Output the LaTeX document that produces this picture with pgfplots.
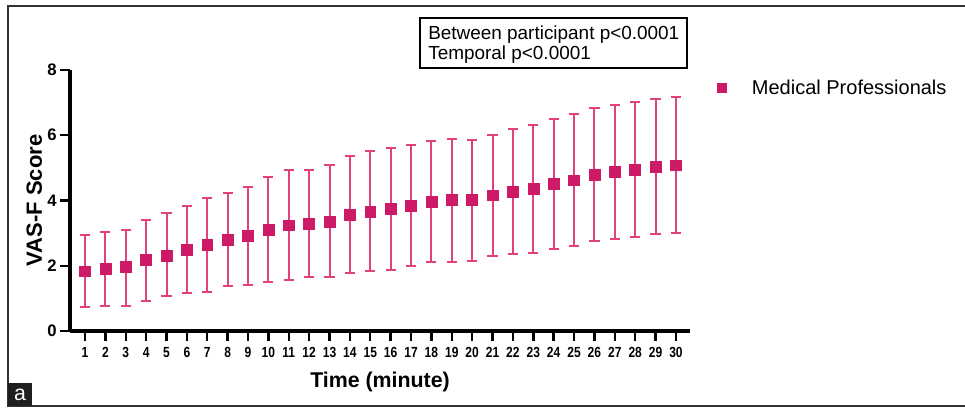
\documentclass[border=0pt]{standalone}
\usepackage{pgfplots}
\pgfplotsset{compat=1.18}
\usepackage{pgfplotstable}
\usepackage{fontspec}
\setmainfont{Liberation Sans}
\newfontfamily\narrowfont[FakeStretch=0.82]{Liberation Sans}

\definecolor{vmag}{RGB}{204,26,102}
\definecolor{vbar}{RGB}{226,64,127}
\definecolor{frame}{RGB}{50,50,50}

% time, mean, upper, lower
\pgfplotstableread{
t  y     hi    lo
1  1.83  2.94  0.73
2  1.91  3.02  0.77
3  1.96  3.10  0.78
4  2.17  3.41  0.92
5  2.32  3.61  1.06
6  2.50  3.84  1.16
7  2.63  4.08  1.20
8  2.79  4.23  1.37
9  2.92  4.42  1.42
10 3.11  4.73  1.50
11 3.24  4.95  1.55
12 3.29  4.95  1.64
13 3.36  5.09  1.64
14 3.55  5.35  1.77
15 3.66  5.52  1.83
16 3.75  5.62  1.88
17 3.84  5.69  1.99
18 3.96  5.81  2.11
19 4.01  5.89  2.12
20 4.01  5.85  2.16
21 4.16  6.01  2.29
22 4.27  6.18  2.35
23 4.35  6.32  2.39
24 4.50  6.49  2.51
25 4.62  6.65  2.59
26 4.79  6.83  2.75
27 4.87  6.93  2.82
28 4.95  7.01  2.89
29 5.03  7.12  2.96
30 5.08  7.17  3.01
}\vasf

\begin{document}
\begin{tikzpicture}[x=0.75pt,y=0.75pt]
\path[use as bounding box] (0,0) rectangle (965,409);

% outer frame of the panel
\draw[frame, line width=1.5pt] (965,403) -- (8,403) -- (8,3) -- (965,3);
\fill[black!88] (8,3) rectangle (32,26);
\node[white, font=\fontsize{16}{16}\selectfont] at (20,14.5) {a};

\begin{axis}[
    at={(52.5pt,58.5pt)}, anchor=south west,
    scale only axis,
    width=465pt, height=195.75pt,
    xmin=0.263, xmax=30.69,
    ymin=0, ymax=8,
    axis lines*=left,
    axis line style={line width=2.4pt, -},
    xtick={1,...,30},
    ytick={0,2,4,6,8},
    tick align=outside,
    major tick length=7.5pt,
    xtick style={line width=1.8pt, black},
    ytick style={line width=1.8pt, black},
    xticklabel style={font=\narrowfont\bfseries\fontsize{11}{11}\selectfont, yshift=-1pt},
    yticklabel style={font=\bfseries\fontsize{12.5}{12.5}\selectfont, xshift=1pt},
    /pgf/number format/assume math mode=true,
    xlabel={Time (minute)},
    ylabel={VAS-F Score},
    xlabel style={font=\bfseries\fontsize{16}{16}\selectfont, yshift=-4pt},
    ylabel style={font=\bfseries\fontsize{16.5}{16.5}\selectfont, yshift=-3pt},
    clip=false,
    legend style={draw=none, fill=none, at={(rel axis cs:1.044,0.931)}, anchor=west,
        inner sep=0pt, column sep=19pt,
        nodes={inner sep=0pt, font=\fontsize{15}{15}\selectfont}},
    legend image code/.code={
        \draw[mark=square*, mark size=3.4pt, mark options={fill=vmag, draw=vmag}]
        plot coordinates {(0pt,0pt)};},
]
\addplot[draw=none, mark=none, forget plot,
    error bars/.cd, y dir=both, y explicit,
    error bar style={vbar, line width=1.5pt},
    error mark options={vbar, line width=1.5pt, rotate=90, mark size=3.8pt}]
    table[x=t, y=y, y error plus expr=\thisrow{hi}-\thisrow{y},
          y error minus expr=\thisrow{y}-\thisrow{lo}] {\vasf};
\addplot[only marks, mark=square*, mark size=4.1pt,
    mark options={fill=vmag, draw=vmag}]
    table[x=t, y=y] {\vasf};
\addlegendentry{Medical Professionals}
\end{axis}

% statistics box
\draw[black, line width=1.5pt] (420,391) rectangle (687,341);
\node[anchor=base west, font=\fontsize{14.2}{14.2}\selectfont, inner sep=0pt] at (428,369) {Between participant p<0.0001};
\node[anchor=base west, font=\fontsize{14.2}{14.2}\selectfont, inner sep=0pt] at (428,349) {Temporal p<0.0001};
\end{tikzpicture}
\end{document}
